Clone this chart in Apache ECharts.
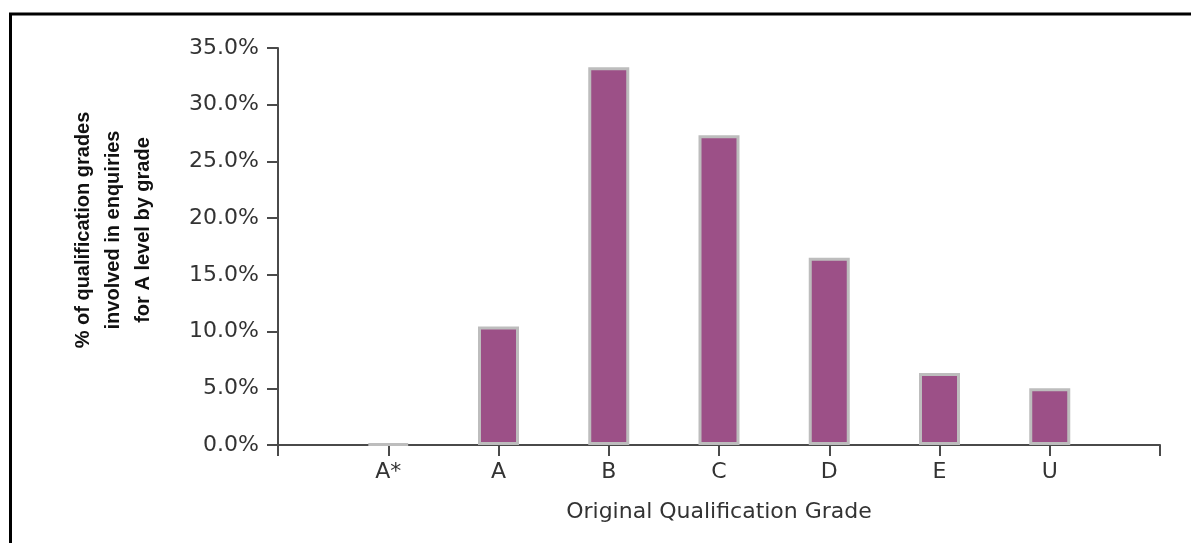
<!DOCTYPE html>
<html>
<head>
<meta charset="utf-8">
<script src="https://cdn.jsdelivr.net/npm/echarts@6/dist/echarts.min.js"></script>
<style>
html,body{margin:0;padding:0;background:#fff;}
#c{width:1191px;height:543px;}
</style>
</head>
<body>
<div id="c"></div>
<script>
// Data
const categories = ['A*', 'A', 'B', 'C', 'D', 'E', 'U'];
const percentages = [0.1, 10.45, 33.3, 27.3, 16.5, 6.35, 5.0];
const yTicks = { min: 0, max: 35, interval: 5 };
const xTitle = 'Original Qualification Grade';
const yTitleLines = ['% of qualification grades', 'involved in enquiries', 'for A level by grade'];

// Axis has an empty slot at each end
const axisCats = [''].concat(categories, ['']);
const axisVals = [null].concat(percentages, [null]);

const chart = echarts.init(document.getElementById('c'), null, { renderer: 'canvas' });
const axisColor = '#4a4a4a';
const textColor = '#333333';
chart.setOption({
  animation: false,
  backgroundColor: '#ffffff',
  grid: { left: 278, right: 31, top: 48, bottom: 98, containLabel: false },
  xAxis: {
    type: 'category',
    data: axisCats,
    boundaryGap: false,
    axisLine: { lineStyle: { color: axisColor, width: 2 } },
    axisTick: { show: true, length: 11, alignWithLabel: true, lineStyle: { color: axisColor, width: 2 } },
    axisLabel: { margin: 16, color: textColor, fontFamily: 'DejaVu Sans', fontSize: 22, interval: 0 },
    name: xTitle,
    nameLocation: 'middle',
    nameGap: 56,
    nameTextStyle: { color: textColor, fontFamily: 'DejaVu Sans', fontSize: 22 },
    splitLine: { show: false }
  },
  yAxis: {
    type: 'value',
    min: yTicks.min,
    max: yTicks.max,
    interval: yTicks.interval,
    axisLine: { show: true, lineStyle: { color: axisColor, width: 2 } },
    axisTick: { show: true, length: 11, lineStyle: { color: axisColor, width: 2 } },
    axisLabel: {
      margin: 19, color: textColor, fontFamily: 'DejaVu Sans', fontSize: 22,
      formatter: v => v.toFixed(1) + '%'
    },
    splitLine: { show: false }
  },
  series: [{
    type: 'bar',
    data: axisVals,
    barWidth: 41,
    itemStyle: { color: '#9c5087', borderColor: '#bdbdbd', borderWidth: 3 }
  }],
  graphic: [
    {
      type: 'rect',
      shape: { x: 10.5, y: 14, width: 1400, height: 1000 },
      style: { fill: null, stroke: '#000', lineWidth: 3 },
      silent: true
    },
    {
      type: 'text',
      x: 113,
      y: 230,
      rotation: Math.PI / 2,
      style: {
        text: yTitleLines.join('\n'),
        font: 'bold 20px "Liberation Sans", Arial, sans-serif',
        fill: '#111',
        textAlign: 'center',
        textVerticalAlign: 'middle',
        lineHeight: 30
      }
    }
  ]
});
</script>
</body>
</html>
